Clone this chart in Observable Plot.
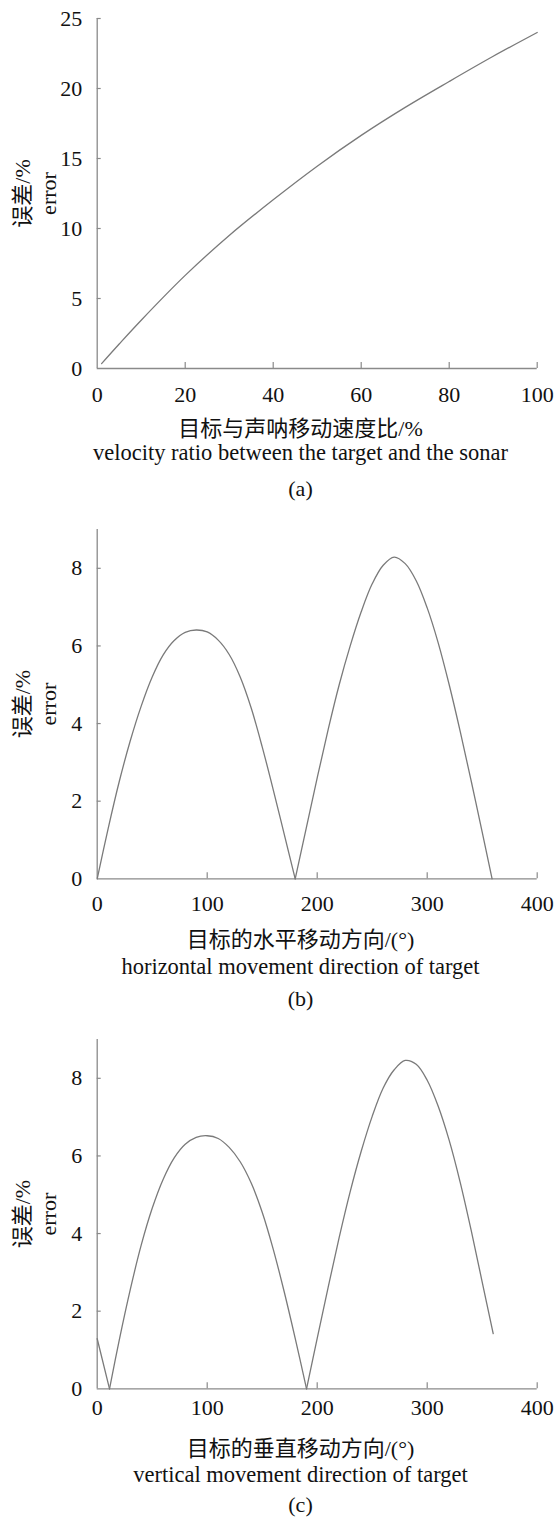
<!DOCTYPE html>
<html><head><meta charset="utf-8">
<script src="https://cdn.jsdelivr.net/npm/d3@7"></script>
<script src="https://cdn.jsdelivr.net/npm/@observablehq/plot@0.6"></script>
<style>
html,body{margin:0;padding:0;background:#fff;}
#chart{position:relative;width:555px;height:1519px;overflow:hidden;}
#chart svg{position:absolute;left:0;display:block;}
</style></head><body><div id="chart"></div>
<script>
// ---- Panel (a): error vs velocity ratio ----
const aRatio = [1, 5, 10, 20, 30, 40, 50, 60, 70, 80, 90, 100];
const aError = [0.35, 1.75, 3.45, 6.65, 9.5, 12.05, 14.45, 16.65, 18.65, 20.5, 22.3, 24.0];
const aXTicks = [0, 20, 40, 60, 80, 100];
const aYTicks = [0, 5, 10, 15, 20, 25];

// ---- Panel (b): error vs horizontal direction ----
const bAngle = [0,10,20,30,40,50,60,70,80,90,100,110,120,130,140,150,160,170,180,
                180,190,200,210,220,230,240,250,260,270,280,290,300,310,320,330,340,350,359];
const bError = [0,1.3,2.5,3.55,4.45,5.2,5.77,6.14,6.35,6.41,6.36,6.15,5.78,5.2,4.4,3.4,2.3,1.15,0,
                0,1.3,2.6,3.85,5.0,6.0,6.88,7.6,8.08,8.29,8.12,7.68,6.98,6.08,5.0,3.8,2.52,1.2,0];
const bArch  = [1,1,1,1,1,1,1,1,1,1,1,1,1,1,1,1,1,1,1,
                2,2,2,2,2,2,2,2,2,2,2,2,2,2,2,2,2,2,2];

// ---- Panel (c): error vs vertical direction ----
const cAngle = [0,11.2,
                11.2,20,30,40,50,60,70,80,90,100,110,120,130,140,150,160,170,180,190.3,
                190.3,200,210,220,230,240,250,260,270,280,290,300,310,320,330,340,350,360];
const cError = [1.29,0,
                0,1.25,2.55,3.7,4.65,5.4,5.95,6.3,6.48,6.52,6.45,6.22,5.85,5.3,4.55,3.6,2.5,1.3,0,
                0,1.3,2.62,3.9,5.08,6.12,7.02,7.75,8.22,8.46,8.36,7.95,7.28,6.4,5.32,4.08,2.75,1.42];
const cArch  = [0,0,
                1,1,1,1,1,1,1,1,1,1,1,1,1,1,1,1,1,1,1,
                2,2,2,2,2,2,2,2,2,2,2,2,2,2,2,2,2,2];
const angleTicks = [0, 100, 200, 300, 400];
const errTicks9 = [0, 2, 4, 6, 8];

// ---- Labels ----
const yLabelZh = "误差/%";
const yLabelEn = "error";
const aLabelZh = "目标与声呐移动速度比/%";
const aLabelEn = "velocity ratio between the target and the sonar";
const bLabelZh = "目标的水平移动方向/(°)";
const bLabelEn = "horizontal movement direction of target";
const cLabelZh = "目标的垂直移动方向/(°)";
const cLabelEn = "vertical movement direction of target";
const tags = ["(a)", "(b)", "(c)"];

const FONT = '"Liberation Serif","Times New Roman","Noto Sans CJK SC",serif';
const AXIS = "#8a8a8a";
const LINE = "#7a7a7a";

function panel(cfg) {
  const W = 555;
  const plotH = cfg.height - cfg.marginTop - cfg.marginBottom;
  const plotW = W - cfg.marginLeft - cfg.marginRight;
  const dxMid = 300 - (cfg.marginLeft + (W - cfg.marginRight)) / 2;
  const txt = (s, dy, size) => Plot.text([s], {text: d => d, frameAnchor: "bottom", textAnchor: "middle", lineAnchor: "middle", dx: dxMid, dy, fill: "#111", fontSize: size});
  return Plot.plot({
    width: W, height: cfg.height,
    marginTop: cfg.marginTop, marginBottom: cfg.marginBottom,
    marginLeft: cfg.marginLeft, marginRight: cfg.marginRight,
    x: {domain: cfg.xDomain, label: null},
    y: {domain: cfg.yDomain, label: null},
    style: {fontFamily: FONT, fontSize: "22px", background: "white", color: "#111", overflow: "visible"},
    marks: [
      Plot.ruleY([0], {stroke: AXIS, strokeWidth: 1.3}),
      Plot.ruleX([0], {stroke: AXIS, strokeWidth: 1.3}),
      Plot.tickX(cfg.xTicks.filter(d => d !== 0), {x: d => d, stroke: AXIS, strokeWidth: 1.2, insetTop: plotH - 6}),
      Plot.tickY(cfg.yTicks.filter(d => d !== 0), {y: d => d, stroke: AXIS, strokeWidth: 1.2, insetRight: plotW - 4}),
      Plot.axisX(cfg.xTicks, {tickSize: 0, tickPadding: cfg.xPad, label: null, fontSize: 22}),
      Plot.axisY(cfg.yTicks, {tickSize: 0, tickPadding: 15, label: null, fontSize: 22}),
      Plot.line(cfg.data, {x: "x", y: "y", z: "seg", curve: "catmull-rom", stroke: LINE, strokeWidth: 1.3}),
      Plot.text([yLabelZh], {text: d => d, frameAnchor: "left", rotate: -90, textAnchor: "middle", lineAnchor: "middle", dx: -74.5, fill: "#111", fontSize: 22}),
      Plot.text([yLabelEn], {text: d => d, frameAnchor: "left", rotate: -90, textAnchor: "middle", lineAnchor: "middle", dx: -48.5, fill: "#111", fontSize: 22}),
      txt(cfg.zh, cfg.dyZh, 22),
      txt(cfg.en, cfg.dyEn, 22.5),
      txt(cfg.tag, cfg.dyTag, 22)
    ]
  });
}

const chart = document.getElementById("chart");
const panels = [
  {top: 0, height: 510, marginTop: 18, marginBottom: 142, marginLeft: 96.7, marginRight: 18.3,
   xDomain: [0, 100], yDomain: [0, 25], xTicks: aXTicks, yTicks: aYTicks, xPad: 18,
   data: aRatio.map((x, i) => ({x, y: aError[i], seg: 0})),
   zh: aLabelZh, en: aLabelEn, tag: tags[0], dyZh: 60, dyEn: 84.5, dyTag: 120},
  {top: 510, height: 505, marginTop: 19, marginBottom: 136.7, marginLeft: 96.7, marginRight: 18.3,
   xDomain: [0, 400], yDomain: [0, 9], xTicks: angleTicks, yTicks: errTicks9, xPad: 17,
   data: bAngle.map((x, i) => ({x, y: bError[i], seg: bArch[i]})),
   zh: bLabelZh, en: bLabelEn, tag: tags[1], dyZh: 61.5, dyEn: 87.5, dyTag: 120},
  {top: 1015, height: 504, marginTop: 24, marginBottom: 130.7, marginLeft: 96.7, marginRight: 18.3,
   xDomain: [0, 400], yDomain: [0, 9], xTicks: angleTicks, yTicks: errTicks9, xPad: 11,
   data: cAngle.map((x, i) => ({x, y: cError[i], seg: cArch[i]})),
   zh: cLabelZh, en: cLabelEn, tag: tags[2], dyZh: 60.5, dyEn: 86, dyTag: 116.5}
];
for (const p of panels) {
  const svg = panel(p);
  svg.style.top = p.top + "px";
  chart.appendChild(svg);
}
</script></body></html>
